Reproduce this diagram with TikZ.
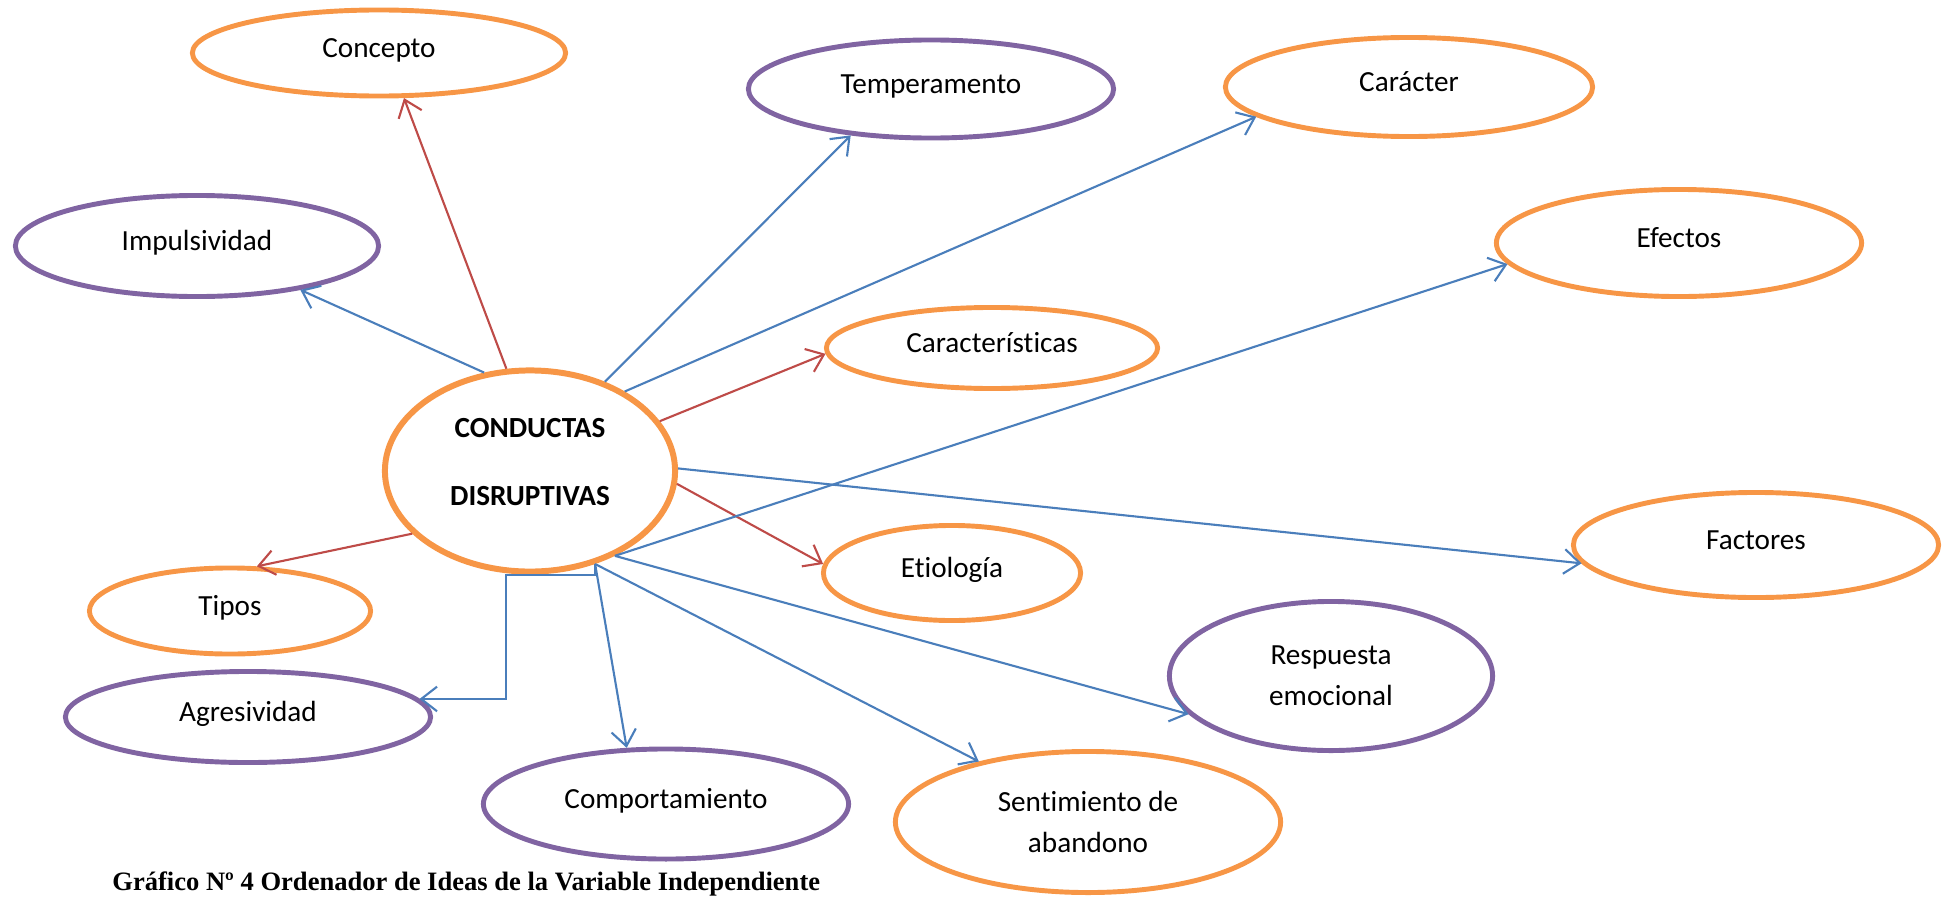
\documentclass[tikz,border=0pt]{standalone}
\usepackage{fontspec}
\setmainfont{Carlito}[Ligatures=NoCommon]
\newfontfamily\titulofont{Liberation Serif}
\usetikzlibrary{shapes.geometric,arrows.meta}
\definecolor{naranja}{HTML}{F79646}
\definecolor{morado}{HTML}{8064A2}
\definecolor{azul}{HTML}{4A7EBB}
\definecolor{rojo}{HTML}{BE4B48}

\begin{document}
\begin{tikzpicture}[x=0.01cm,y=-0.01cm, every node/.style={font=\fontsize{8.3}{11.6}\selectfont},
  idea/.style={ellipse,line width=1.4pt,inner sep=0pt},
  una/.style={text height=6pt,text depth=3.5pt},
  nar/.style={idea,draw=naranja}, mor/.style={idea,draw=morado},
  az/.style={draw=azul,line width=0.6pt,-{Straight Barb[length=4.5pt,width=7pt]}},
  ro/.style={draw=rojo,line width=0.6pt,-{Straight Barb[length=4.5pt,width=7pt]}}]
\useasboundingbox (0,0) rectangle (1951,897);

\node[nar,line width=1.7pt,align=center,minimum width=2.90cm,minimum height=2.01cm,text depth=5pt,
  font=\bfseries\fontsize{8.3}{19.3}\selectfont] (cd) at (530,471) {CONDUCTAS\\DISRUPTIVAS};
\node[nar,una,minimum width=3.73cm,minimum height=0.86cm] (concepto) at (379,53) {Concepto};
\node[mor,una,minimum width=3.65cm,minimum height=0.98cm] (temperamento) at (931,89) {Temperamento};
\node[nar,una,minimum width=3.67cm,minimum height=0.99cm] (caracter) at (1409,87) {Carácter};
\node[mor,una,minimum width=3.63cm,minimum height=1.01cm] (impulsividad) at (197,246) {Impulsividad};
\node[nar,una,minimum width=3.65cm,minimum height=1.07cm] (efectos) at (1679,243) {Efectos};
\node[nar,una,minimum width=3.31cm,minimum height=0.81cm] (caracteristicas) at (992,348) {Características};
\node[nar,una,minimum width=3.65cm,minimum height=1.05cm] (factores) at (1756,545) {Factores};
\node[nar,una,minimum width=2.57cm,minimum height=0.95cm] (etiologia) at (952,573) {Etiología};
\node[nar,una,minimum width=2.81cm,minimum height=0.86cm] (tipos) at (230,611) {Tipos};
\node[mor,align=center,minimum width=3.23cm,minimum height=1.49cm] (respuesta) at (1331,676) {Respuesta\\emocional};
\node[mor,una,minimum width=3.65cm,minimum height=0.91cm] (agresividad) at (248,717) {Agresividad};
\node[mor,una,minimum width=3.65cm,minimum height=1.10cm] (comportamiento) at (666,804) {Comportamiento};
\node[nar,align=center,minimum width=3.85cm,minimum height=1.41cm] (sentimiento) at (1088,822) {Sentimiento de\\abandono};

\node[anchor=base west,font=\titulofont\bfseries\fontsize{7.55}{9}\selectfont] (titulo) at (100,890)
  {Gráfico Nº 4 Ordenador de Ideas de la Variable Independiente};

\draw[ro] (cd.103) -- (concepto.299);
\draw[az] (cd.115) -- (impulsividad.337);
\draw[az] (cd.50) -- (temperamento.210);
\draw[az] (cd.40) -- (caracter.191);
\draw[ro] (cd.21) -- (caracteristicas.182);
\draw[az] (cd.1) -- (factores.186);
\draw[ro] (cd.355) -- (etiologia.176);
\draw[az] (cd.315) -- (efectos.187);
\draw[az] (cd.315) -- (respuesta.195);
\draw[ro] (cd.208) -- (tipos.59);
\coordinate (codo) at (506,575);
\draw[az] (cd.305) |- (codo) |- (agresividad.6);
\draw[az] (cd.305) -- (comportamiento.125);
\draw[az] (cd.305) -- (sentimiento.151);
\end{tikzpicture}
\end{document}
